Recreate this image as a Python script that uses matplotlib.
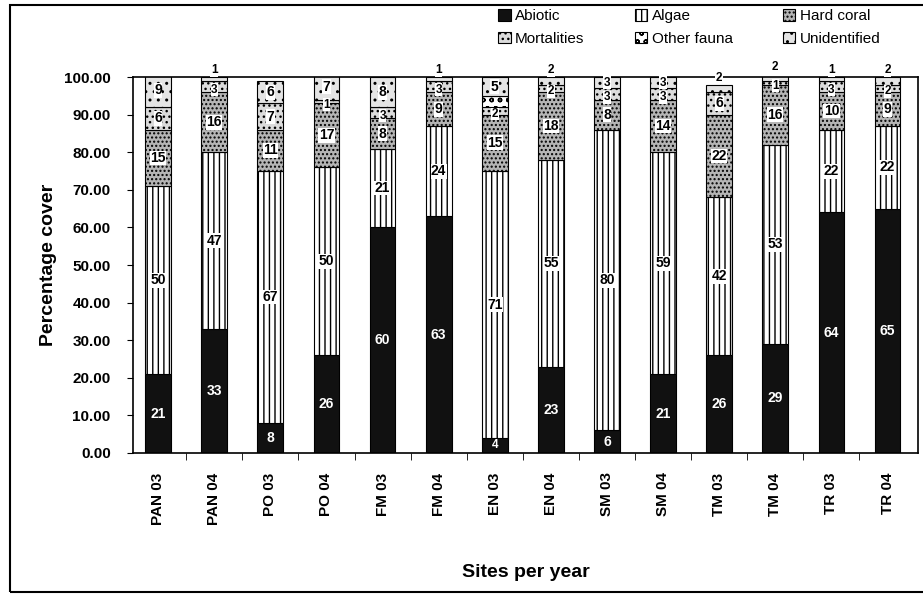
import numpy as np
import matplotlib
matplotlib.use('Agg')
import matplotlib.pyplot as plt
from matplotlib.patches import Rectangle, Patch

plt.rcParams['font.family'] = ['Liberation Sans', 'DejaVu Sans']

sites = ['PAN 03', 'PAN 04', 'PO 03', 'PO 04', 'FM 03', 'FM 04', 'EN 03',
         'EN 04', 'SM 03', 'SM 04', 'TM 03', 'TM 04', 'TR 03', 'TR 04']
abiotic = [21, 33, 8, 26, 60, 63, 4, 23, 6, 21, 26, 29, 64, 65]
algae = [50, 47, 67, 50, 21, 24, 71, 55, 80, 59, 42, 53, 22, 22]
hard_coral = [15, 16, 11, 17, 8, 9, 15, 18, 8, 14, 22, 16, 10, 9]
mortalities = [6, 3, 7, 1, 3, 3, 2, 2, 3, 3, 6, 1, 3, 2]
other_fauna = [0, 0, 0, 0, 0, 0, 3, 0, 0, 0, 0, 0, 0, 0]
unidentified = [9, 1, 6, 7, 8, 1, 5, 2, 3, 3, 2, 2, 1, 2]

series_names = ['Abiotic', 'Algae', 'Hard coral', 'Mortalities', 'Other fauna', 'Unidentified']
series_vals = [abiotic, algae, hard_coral, mortalities, other_fauna, unidentified]
# fill / hatch styles imitating the b&w print
styles = [
    dict(facecolor='#111111', hatch=None),
    dict(facecolor='white', hatch='|||'),
    dict(facecolor='#b5b5b5', hatch='....'),
    dict(facecolor='#dcdcdc', hatch='...'),
    dict(facecolor='white', hatch='oo'),
    dict(facecolor='#e4e4e4', hatch='..'),
]

fig = plt.figure(figsize=(9.23, 5.98), dpi=100)
ax = fig.add_axes([0.144, 0.2425, 0.851, 0.6285])

x = np.arange(len(sites))
totals = np.sum(np.array(series_vals, dtype=float), axis=0)
bottom = np.zeros(len(sites))
handles = []
for name, vals, st in zip(series_names, series_vals, styles):
    vals = np.array(vals, dtype=float)
    ax.bar(x, vals, width=0.46, bottom=bottom, color=st['facecolor'],
           hatch=st['hatch'], edgecolor='black', linewidth=0.8)
    for xi, b, v, tot in zip(x, bottom, vals, totals):
        # the print shows no label for the thin "other fauna" slice
        if v <= 0 or name == 'Other fauna':
            continue
        is_top = abs(b + v - tot) < 1e-9
        y = b + v / 2
        va = 'center'
        fs = 10 if v >= 5 else 8.5
        if is_top and v <= 2:
            # tiny top segment: label sits just over the bar
            y, va = tot + 0.2, 'bottom'
        elif v <= 3 and not is_top:
            y = b + v / 2 - 0.8
        if name == 'Abiotic':
            ax.text(xi, y, f'{int(v)}', ha='center', va=va,
                    color='white', fontsize=fs, fontweight='bold')
        else:
            ax.text(xi, y, f'{int(v)}', ha='center', va=va,
                    color='black', fontsize=fs, fontweight='bold',
                    bbox=dict(facecolor='white', edgecolor='none', pad=0.3))
    bottom += vals
    handles.append(Patch(facecolor=st['facecolor'], hatch=st['hatch'],
                         edgecolor='black', linewidth=0.8, label=name))

ax.set_ylim(0, 100)
ax.set_xlim(-0.45, 13.55)
ax.set_yticks(np.arange(0, 101, 10))
ax.set_yticklabels([f'{v:.2f}' for v in np.arange(0, 101, 10)],
                   fontsize=11, fontweight='bold')
ax.set_xticks(x)
ax.set_xticklabels(sites, rotation=90, fontsize=11, fontweight='bold')
ax.set_xticks(np.arange(0.5, 13.5, 1), minor=True)
ax.tick_params(axis='x', which='major', length=0, pad=14)
ax.tick_params(axis='x', which='minor', length=5, direction='out')
ax.tick_params(axis='y', length=4, direction='out', pad=12)
for sp in ax.spines.values():
    sp.set_linewidth(1.2)

ax.set_ylabel('Percentage cover', fontsize=14, fontweight='bold', labelpad=5)
ax.set_xlabel('Sites per year', fontsize=14, fontweight='bold', labelpad=28)

# legend order so rows read Abiotic/Algae/Hard coral, then the rest
order = [0, 3, 1, 4, 2, 5]
fig.legend([handles[i] for i in order], [series_names[i] for i in order],
           ncol=3, loc='upper left', bbox_to_anchor=(0.525, 1.008),
           frameon=False, fontsize=11, handlelength=0.8, handleheight=0.8,
           handletextpad=0.3, columnspacing=3.3, labelspacing=0.55)

# outer frame of the scanned figure
fig.patches.append(Rectangle((10 / 923, 1 - 592 / 598), 1.0, 587 / 598,
                             transform=fig.transFigure, fill=False,
                             edgecolor='black', linewidth=1.5))

fig.savefig('out.png', dpi=100)
